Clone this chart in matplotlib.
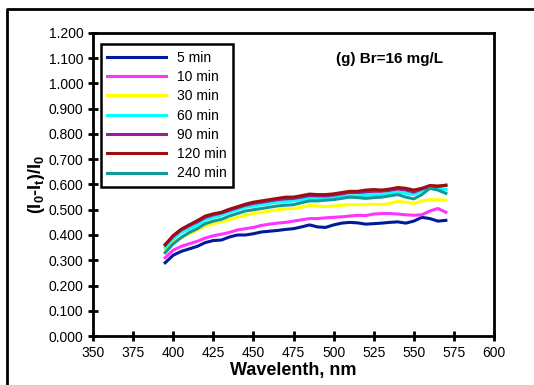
import numpy as np
import matplotlib.pyplot as plt
from matplotlib.lines import Line2D

plt.rcParams['font.family'] = ['Liberation Sans', 'DejaVu Sans']
plt.rcParams['mathtext.fontset'] = 'custom'
plt.rcParams['mathtext.bf'] = 'Liberation Sans:bold'
plt.rcParams['mathtext.rm'] = 'Liberation Sans'

# -----------------------------
# DATA
# -----------------------------
wavelength = list(range(395, 575, 5))

min5 = [0.290, 0.320, 0.335, 0.345, 0.355, 0.370, 0.378, 0.380, 0.392, 0.400,
        0.400, 0.405, 0.412, 0.415, 0.418, 0.422, 0.425, 0.432, 0.440, 0.432,
        0.430, 0.440, 0.447, 0.450, 0.448, 0.443, 0.445, 0.447, 0.450, 0.452,
        0.447, 0.455, 0.470, 0.465, 0.455, 0.458]
min10 = [0.310, 0.340, 0.355, 0.365, 0.375, 0.388, 0.397, 0.403, 0.410, 0.420,
         0.425, 0.430, 0.438, 0.443, 0.447, 0.450, 0.455, 0.460, 0.465, 0.465,
         0.468, 0.470, 0.472, 0.475, 0.478, 0.477, 0.483, 0.485, 0.485, 0.483,
         0.480, 0.478, 0.480, 0.495, 0.505, 0.490]
min30 = [0.340, 0.370, 0.390, 0.405, 0.420, 0.435, 0.445, 0.452, 0.460, 0.470,
         0.478, 0.485, 0.490, 0.495, 0.500, 0.503, 0.505, 0.510, 0.517, 0.515,
         0.512, 0.515, 0.518, 0.520, 0.520, 0.520, 0.522, 0.520, 0.525, 0.533,
         0.530, 0.525, 0.535, 0.540, 0.540, 0.538]
min60 = [0.350, 0.385, 0.410, 0.425, 0.440, 0.460, 0.470, 0.478, 0.490, 0.500,
         0.510, 0.515, 0.520, 0.525, 0.530, 0.532, 0.535, 0.540, 0.545, 0.545,
         0.545, 0.548, 0.552, 0.555, 0.555, 0.557, 0.560, 0.560, 0.565, 0.570,
         0.565, 0.560, 0.575, 0.590, 0.585, 0.580]
min90 = [0.360, 0.395, 0.420, 0.437, 0.452, 0.470, 0.480, 0.487, 0.498, 0.508,
         0.518, 0.525, 0.530, 0.535, 0.540, 0.543, 0.545, 0.550, 0.556, 0.555,
         0.555, 0.558, 0.563, 0.568, 0.568, 0.570, 0.573, 0.573, 0.577, 0.582,
         0.578, 0.570, 0.582, 0.593, 0.592, 0.598]
min120 = [0.362, 0.398, 0.423, 0.440, 0.457, 0.475, 0.484, 0.490, 0.502, 0.512,
          0.522, 0.530, 0.535, 0.540, 0.545, 0.550, 0.550, 0.556, 0.562, 0.560,
          0.560, 0.563, 0.568, 0.573, 0.573, 0.578, 0.580, 0.578, 0.582, 0.588,
          0.585, 0.578, 0.585, 0.596, 0.594, 0.596]
min240 = [0.330, 0.365, 0.390, 0.410, 0.425, 0.445, 0.455, 0.462, 0.475, 0.485,
          0.495, 0.500, 0.505, 0.510, 0.515, 0.518, 0.520, 0.528, 0.535, 0.535,
          0.538, 0.540, 0.545, 0.550, 0.548, 0.545, 0.548, 0.550, 0.555, 0.560,
          0.550, 0.543, 0.560, 0.585, 0.578, 0.565]

labels = ["5 min", "10 min", "30 min", "60 min", "90 min", "120 min", "240 min"]
colors = ["#001a99", "#ff33ff", "#ffff00", "#00ffff", "#9a1f9a", "#9a1010", "#119999"]
series = [min5, min10, min30, min60, min90, min120, min240]

xticks = list(range(350, 625, 25))
yticks = np.arange(0, 1.21, 0.1)

# -----------------------------
# PLOT
# -----------------------------
fig = plt.figure(figsize=(5.34, 3.85), dpi=100)
ax = fig.add_axes([93 / 534, 49 / 385, 401 / 534, 303 / 385])

for vals, lab, col in zip(series, labels, colors):
    ax.plot(wavelength, vals, color=col, lw=2.2, label=lab)

ax.set_xlim(350, 600)
ax.set_ylim(0, 1.2)
ax.set_xticks(xticks)
ax.set_yticks(yticks)
ax.set_yticklabels([f"{v:.3f}" for v in yticks])
ax.tick_params(direction='inout', length=7, width=2, labelsize=10)

for sp in ax.spines.values():
    sp.set_linewidth(2)

ax.set_xlabel("Wavelenth, nm", fontsize=13, fontweight='bold', labelpad=2)
ax.set_ylabel(r"(I$_\mathbf{0}$-I$_\mathbf{t}$)/I$_\mathbf{0}$", fontsize=13,
              fontweight='bold', labelpad=1)

ax.text(0.74, 0.9, "(g) Br=16 mg/L", transform=ax.transAxes, ha='center',
        fontsize=11, fontweight='bold')

leg = ax.legend(loc='upper left', bbox_to_anchor=(0.003, 0.985), fontsize=10,
                handlelength=4.2, labelspacing=0.38, borderpad=0.45,
                fancybox=False, edgecolor='black', framealpha=1)
leg.get_frame().set_linewidth(1.8)

# outer frame (top and left edges visible)
fig.lines.append(Line2D([7 / 534, 7 / 534, 1.0], [0.0, 1 - 9 / 385, 1 - 9 / 385],
                        transform=fig.transFigure, color='black', lw=2))

fig.savefig("out.png", dpi=100)
